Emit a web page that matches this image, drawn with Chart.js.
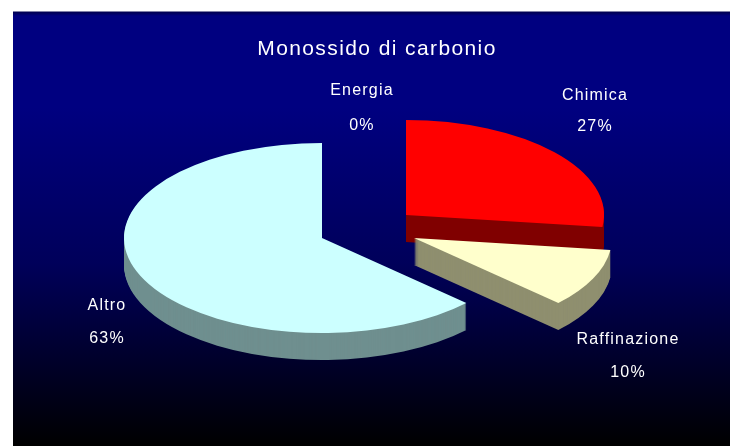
<!DOCTYPE html>
<html>
<head>
<meta charset="utf-8">
<script src="https://cdn.jsdelivr.net/npm/chart.js@4"></script>
<style>
  html, body { margin: 0; background: #fff; }
  #panel { position: absolute; left: 13px; top: 11px; width: 717px; height: 434px;
    border-top: 1px solid #8080a8;
    background: linear-gradient(to bottom, #000050 0, #000080 4px, #000080 22%, #00005a 58%, #000000 100%); }
  #wrap { position: absolute; left: 0; top: 0; width: 730px; height: 446px; }
</style>
</head>
<body>
<div id="panel"></div>
<div id="wrap"><canvas id="pieChart"></canvas></div>
<script>
const categories = ["Energia", "Chimica", "Raffinazione", "Altro"];
const shares = [0, 27, 10, 63];
const topColors = ["#000080", "#ff0000", "#ffffcc", "#ccffff"];
const sideColors = ["#000040", "#800000", "#8f8f6f", "#6f8f8f"];

// where each slice tip sits on the page, the pie is tilted so slices are moved by hand
const sliceTips = [[322, 238], [406, 215], [414, 238], [322, 238]];
const labelSpots = [[362, 91, 126], [595, 96, 127], [628, 340, 373], [107, 306, 339]];
const tilt = 0.48;
const depth = 27;

const tiltedPie = {
  id: "tiltedPie",
  beforeDatasetDraw(chart) {
    const ctx = chart.ctx;
    const arcs = chart.getDatasetMeta(0).data;
    arcs.forEach((arc, i) => {
      if (shares[i] === 0) return;
      const topOptions = arc.options;
      ctx.save();
      // side of the slice first, stacked copies going up
      arc.options = Object.assign({}, topOptions, { backgroundColor: sideColors[i] });
      for (let d = depth; d > 0; d--) {
        ctx.save();
        ctx.translate(sliceTips[i][0], sliceTips[i][1] + d);
        ctx.scale(1, tilt);
        ctx.translate(-arc.x, -arc.y);
        arc.draw(ctx);
        ctx.restore();
      }
      arc.options = topOptions;
      ctx.translate(sliceTips[i][0], sliceTips[i][1]);
      ctx.scale(1, tilt);
      ctx.translate(-arc.x, -arc.y);
      arc.draw(ctx);
      ctx.restore();
    });
    return false;
  },
  afterDatasetsDraw(chart) {
    const ctx = chart.ctx;
    ctx.save();
    ctx.fillStyle = "#ffffff";
    ctx.font = "16px 'Liberation Sans'";
    ctx.textAlign = "center";
    ctx.textBaseline = "middle";
    ctx.letterSpacing = "1.2px";
    categories.forEach((name, i) => {
      ctx.fillText(name, labelSpots[i][0], labelSpots[i][1]);
      ctx.fillText(shares[i] + "%", labelSpots[i][0], labelSpots[i][2]);
    });
    ctx.restore();
  },
  beforeDraw(chart) {
    chart.ctx.letterSpacing = "1.4px";
  },
};

new Chart(document.getElementById("pieChart"), {
  type: "pie",
  data: {
    labels: categories,
    datasets: [
      {
        data: shares,
        backgroundColor: topColors,
        borderWidth: 0,
      },
    ],
  },
  options: {
    responsive: true,
    maintainAspectRatio: false,
    animation: false,
    radius: 198,
    layout: { padding: { left: 24 } },
    plugins: {
      legend: { display: false },
      tooltip: { enabled: false },
      title: {
        display: true,
        text: "Monossido di carbonio",
        color: "#ffffff",
        font: { family: "'Liberation Sans'", size: 21, weight: "normal" },
        padding: { top: 37, bottom: 10 },
      },
    },
  },
  plugins: [tiltedPie],
});
</script>
</body>
</html>
